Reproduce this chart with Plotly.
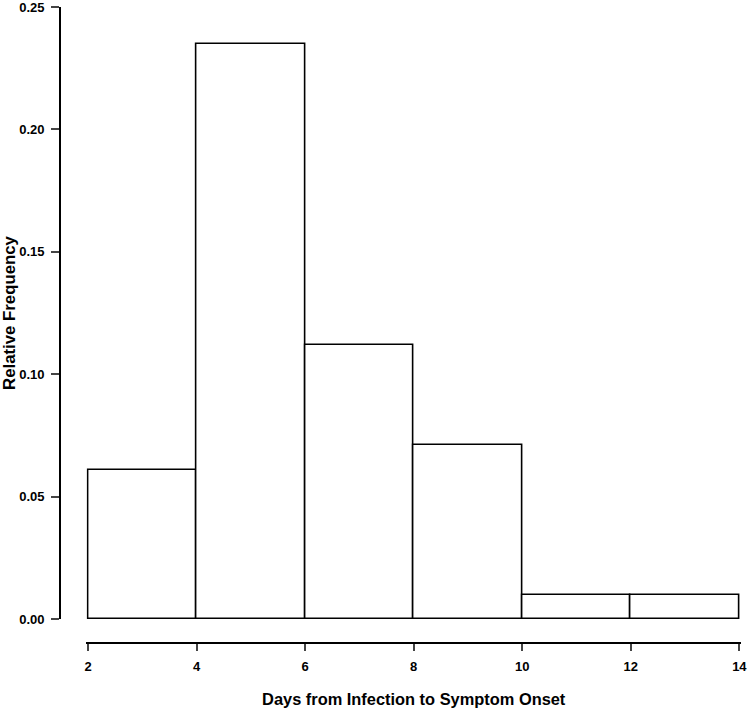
import plotly.graph_objects as go

# histogram bins (days) and relative frequencies
bin_left = [2, 4, 6, 8, 10, 12]
bin_width = 2
rel_freq = [0.061, 0.235, 0.112, 0.071, 0.010, 0.010]

x_ticks = [2, 4, 6, 8, 10, 12, 14]
y_ticks = [0.00, 0.05, 0.10, 0.15, 0.20, 0.25]
y_tick_labels = ["0.00", "0.05", "0.10", "0.15", "0.20", "0.25"]

centers = [b + bin_width / 2 for b in bin_left]

fig = go.Figure()
fig.add_trace(go.Bar(
    x=centers, y=rel_freq, width=[bin_width] * len(centers),
    marker=dict(color="white", line=dict(color="black", width=1.6)),
    showlegend=False, hoverinfo="x+y",
))

font = "Liberation Sans, Arial, sans-serif"
fig.update_layout(
    width=750, height=710,
    margin=dict(l=60, r=9, t=7, b=67),
    plot_bgcolor="white", paper_bgcolor="white",
    font=dict(family=font, color="black"),
    bargap=0,
    xaxis=dict(
        # range padded a touch so the outer bar outlines are not clipped
        domain=[0.0388, 1], range=[1.97, 14.03], anchor="free", position=0,
        automargin=False,
        tickvals=x_ticks, ticks="outside", ticklen=7, tickwidth=1.6,
        ticklabelstandoff=5, ticklabeloverflow="allow",
        showline=True, linecolor="black", linewidth=1.6,
        showgrid=False, zeroline=False,
        tickfont=dict(size=13, weight="bold"),
        title=dict(text="Days from Infection to Symptom Onset",
                   font=dict(size=16.4, weight="bold"), standoff=19),
    ),
    yaxis=dict(
        domain=[0.0377, 1], range=[0, 0.25], anchor="free", position=0,
        automargin=False,
        tickvals=y_ticks, ticktext=y_tick_labels,
        ticks="outside", ticklen=8, tickwidth=1.6,
        ticklabelstandoff=4, ticklabeloverflow="allow",
        showline=True, linecolor="black", linewidth=1.6,
        showgrid=False, zeroline=False,
        tickfont=dict(size=13, weight="bold"),
        title=dict(text="Relative Frequency",
                   font=dict(size=16.8, weight="bold"), standoff=0),
    ),
)

# drop the browser's default 8px body margin so the figure sits at the page corner
fig.write_html("out.html", config={"displayModeBar": False},
               post_script="document.body.style.margin='0';")
